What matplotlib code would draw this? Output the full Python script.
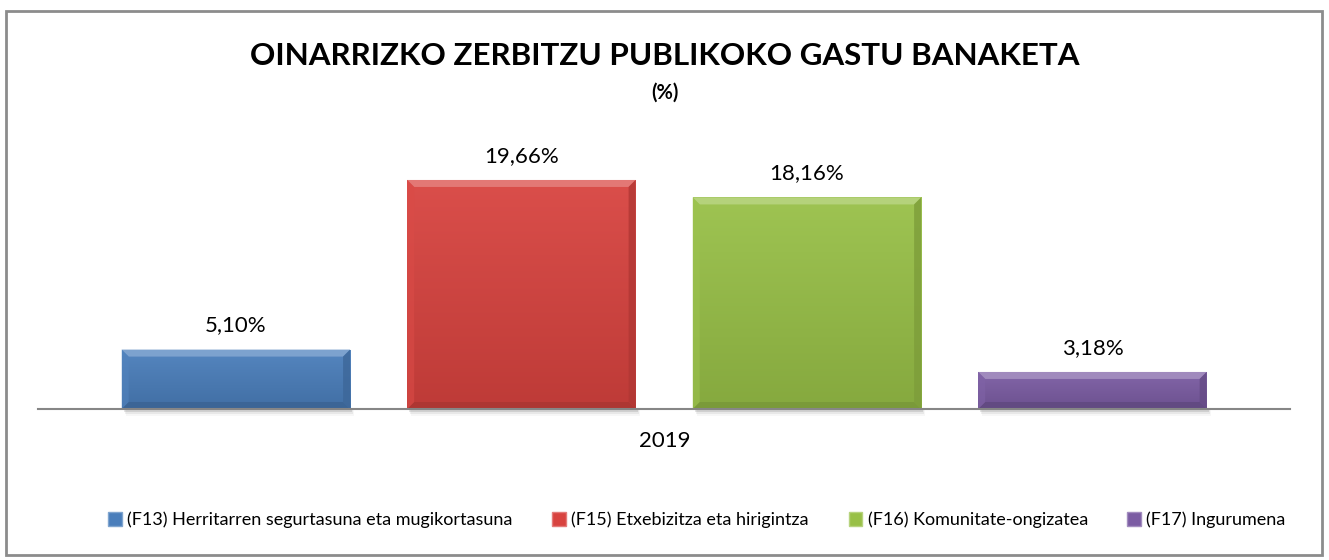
import matplotlib.pyplot as plt
import matplotlib.patches as mpatches
import matplotlib.colors as mcolors
import numpy as np

categories = ['(F13) Herritarren segurtasuna eta mugikortasuna',
              '(F15) Etxebizitza eta hirigintza',
              '(F16) Komunitate-ongizatea',
              '(F17) Ingurumena']
values = [5.10, 19.66, 18.16, 3.18]
year_label = '2019'
colors = ['#4a7ebb', '#d8433f', '#98c047', '#7b5ca3']

plt.rcParams['font.family'] = ['Lato', 'DejaVu Sans']

fig = plt.figure(figsize=(13.29, 5.6), dpi=100)
ax = fig.add_axes([38 / 1329, 151 / 560, 1252 / 1329, 289 / 560])

x = np.arange(len(values))
width = 0.80
ax.set_xlim(-0.693, len(values) - 1 + 0.692)
ax.set_ylim(0, 289 / 11.65)

# px -> data conversions for bevel sizes
px_x = (ax.get_xlim()[1] - ax.get_xlim()[0]) / 1252
px_y = (ax.get_ylim()[1] - ax.get_ylim()[0]) / 289


def shade(c, f):
    r, g, b = mcolors.to_rgb(c)
    if f > 0:
        return (r + (1 - r) * f, g + (1 - g) * f, b + (1 - b) * f)
    return (r * (1 + f), g * (1 + f), b * (1 + f))


bars = ax.bar(x, values, width, color=colors, zorder=2)
for bar, c in zip(bars, colors):
    x0 = bar.get_x()
    x1 = x0 + bar.get_width()
    h = bar.get_height()
    # soft shadow
    for k, a in enumerate([0.10, 0.06, 0.03]):
        ax.add_patch(mpatches.Rectangle((x0 + (2 + k) * px_x, -(3 + 2 * k) * px_y),
                                        bar.get_width(), (3 + 2 * k) * px_y,
                                        color='#000000', alpha=a, lw=0, zorder=1, clip_on=False))
    # vertical gradient
    grad = np.linspace(0, 1, 100).reshape(-1, 1)
    cmap = mcolors.LinearSegmentedColormap.from_list('g', [shade(c, -0.12), shade(c, 0.06)])
    im = ax.imshow(grad, extent=(x0, x1, 0, h), origin='lower', aspect='auto',
                   cmap=cmap, zorder=3)
    im.set_clip_path(bar)
    bx = 7 * px_x
    by = 7 * px_y
    # top bevel (light)
    ax.add_patch(mpatches.Polygon([(x0, h), (x1, h), (x1 - bx, h - by), (x0 + bx, h - by)],
                                  closed=True, color=shade(c, 0.28), lw=0, zorder=4))
    # bottom bevel (dark)
    ax.add_patch(mpatches.Polygon([(x0, 0), (x1, 0), (x1 - bx, by), (x0 + bx, by)],
                                  closed=True, color=shade(c, -0.2), lw=0, zorder=4))
    # left bevel
    ax.add_patch(mpatches.Polygon([(x0, 0), (x0, h), (x0 + bx, h - by), (x0 + bx, by)],
                                  closed=True, color=shade(c, 0.04), alpha=0.6, lw=0, zorder=4))
    # right bevel
    ax.add_patch(mpatches.Polygon([(x1, 0), (x1, h), (x1 - bx, h - by), (x1 - bx, by)],
                                  closed=True, color=shade(c, -0.18), alpha=0.8, lw=0, zorder=4))
    ax.text(bar.get_x() + bar.get_width() / 2.0, h + 14 * px_y,
            ('%.2f' % h).replace('.', ',') + '%', ha='center', va='bottom',
            fontsize=16, color='#000000')

for s in ['top', 'right', 'left']:
    ax.spines[s].set_visible(False)
ax.spines['bottom'].set_color('#868686')
ax.spines['bottom'].set_linewidth(1.5)
ax.spines['bottom'].set_zorder(5)
ax.set_xticks([])
ax.set_yticks([])

fig.text(0.5, 1 - 441 / 560, year_label, ha='center', va='center', fontsize=16)
fig.text(0.5, 1 - 56 / 560, 'OINARRIZKO ZERBITZU PUBLIKOKO GASTU BANAKETA',
         ha='center', va='center', fontsize=22.6, fontweight='bold')
fig.text(0.5, 1 - 93 / 560, '(%)', ha='center', va='center', fontsize=14.5, fontweight='bold')

handles = [mpatches.Patch(facecolor=c, edgecolor=shade(c, 0.3), label=l)
           for c, l in zip(colors, categories)]
fig.legend(handles=handles, loc='center', bbox_to_anchor=(697 / 1329, 1 - 520 / 560), ncol=4,
           frameon=False, fontsize=13, handlelength=0.75, handleheight=0.75,
           handletextpad=0.3, columnspacing=2.2)

fig.add_artist(mpatches.Rectangle((6 / 1329, 1 - 555 / 560), 1316 / 1329, 544 / 560,
                                  transform=fig.transFigure, fill=False,
                                  edgecolor='#8c8c8c', lw=2))

plt.savefig('out.png', dpi=100)
plt.close()
